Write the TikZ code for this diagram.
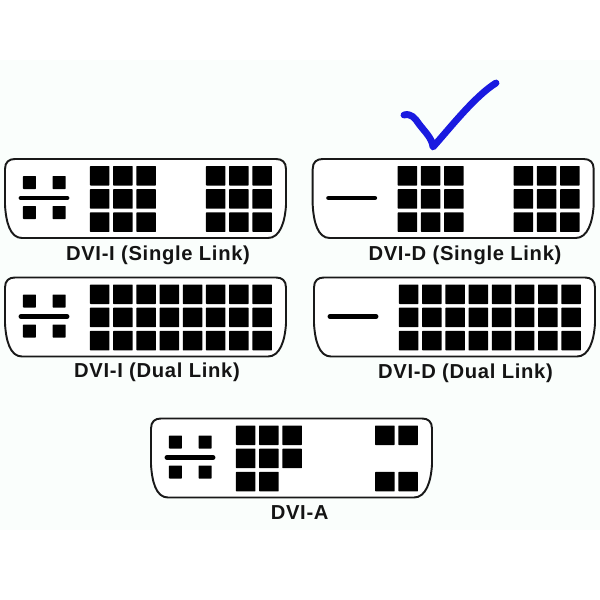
\documentclass[tikz,border=0pt]{standalone}
\usepackage{fontspec}
\setmainfont{Liberation Sans}
\newfontfamily\dvifont[LetterSpace=3.4]{Liberation Sans}
\definecolor{paper}{HTML}{FAFEFC}
\definecolor{tick}{HTML}{1A1AE0}

\newcommand{\dviShell}{%
    \draw[shell] (5,169) .. controls (5,162) and (9,159) .. (15,159) -- (276,159)
        .. controls (282,159) and (286,162) .. (286,169) -- (286,205)
        .. controls (285,222) and (280,238) .. (268,238) -- (22,238)
        .. controls (10,238) and (6,222) .. (5,205) -- cycle;
}
% pin at column #1, row #2
\newcommand{\dviPin}[2]{%
    \fill[pin] ({90+#1*23.2},{166+#2*23.2}) rectangle ++(19.5,19.5);
}
\newcommand{\dviBlade}{%
    \draw[blade] (21,198) -- (67,198);
}
\newcommand{\dviCross}{%
    \foreach \px in {23,52.7} {
        \foreach \py in {176,206} {
            \fill[pin] (\px,\py) rectangle ++(13,13);
        }
    }
}

\begin{document}
\begin{tikzpicture}[x=0.02cm, y=-0.02cm,
    every node/.style={font=\dvifont\fontsize{11.5pt}{13pt}\selectfont\bfseries, text=black!92},
    shell/.style={draw=black!90, fill=white, line width=1.1pt},
    pin/.style={fill=black, rounded corners=0.3pt},
    blade/.style={black, line width=2.8pt, line cap=round}]
    \useasboundingbox (0,0) rectangle (600,600);
    \fill[white] (0,0) rectangle (600,600);
    \fill[paper] (0,60) rectangle (600,530);

    % DVI-I single
        \begin{scope}
            \dviShell
            \dviCross
            \dviBlade
            \foreach \c in {0,1,2,5,6,7} {
                \foreach \r in {0,1,2} {
                    \dviPin{\c}{\r}
                }
            }
        \end{scope}
        \node (isingle) at (158,255) {DVI-I (Single Link)};

    % DVI-D single
        \begin{scope}[shift={(307.7,0)}]
            \dviShell
            \dviBlade
            \foreach \c in {0,1,2,5,6,7} {
                \foreach \r in {0,1,2} {
                    \dviPin{\c}{\r}
                }
            }
        \end{scope}
        \node (dsingle) at (465,255) {DVI-D (Single Link)};

    % DVI-I dual
        \begin{scope}[shift={(0,118.5)}]
            \dviShell
            \dviCross
            \dviBlade
            \foreach \c in {0,...,7} {
                \foreach \r in {0,1,2} {
                    \dviPin{\c}{\r}
                }
            }
        \end{scope}
        \node (idual) at (157,372) {DVI-I (Dual Link)};

    % DVI-D dual
        \begin{scope}[shift={(309,118.5)}]
            \dviShell
            \dviBlade
            \foreach \c in {0,...,7} {
                \foreach \r in {0,1,2} {
                    \dviPin{\c}{\r}
                }
            }
        \end{scope}
        \node (ddual) at (465.5,373.5) {DVI-D (Dual Link)};

    % DVI-A
        \begin{scope}[shift={(146,259.5)}]
            \dviShell
            \dviCross
            \dviBlade
            \foreach \c/\r in {0/0,1/0,2/0,0/1,1/1,2/1,0/2,1/2,6/0,7/0,6/2,7/2} {
                \dviPin{\c}{\r}
            }
        \end{scope}
        \node (analog) at (299.7,513) {DVI-A};

    % Check mark
        \draw[tick, line width=3.9pt, line cap=round, line join=round]
            (404,115) .. controls (411,113) and (415,118) .. (419,124)
            .. controls (425,132) and (432,138) .. (433,147)
            .. controls (450,128) and (475,96) .. (496,83);
\end{tikzpicture}
\end{document}
